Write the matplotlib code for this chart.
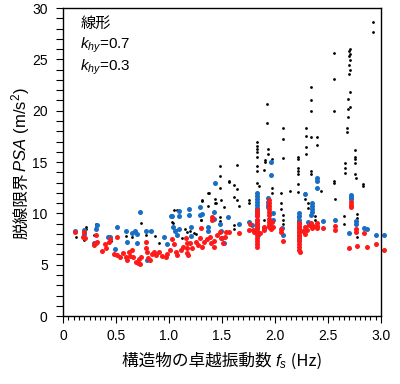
"""Derailment limit PSA vs. dominant structural frequency (scatter)."""
import numpy as np
import matplotlib
matplotlib.use('Agg')
from matplotlib import pyplot as plt
from matplotlib.ticker import MultipleLocator, FuncFormatter

plt.rcParams['font.family'] = ['Liberation Sans', 'Noto Sans CJK JP', 'DejaVu Sans']
plt.rcParams['mathtext.fontset'] = 'custom'
plt.rcParams['mathtext.rm'] = 'Liberation Sans'
plt.rcParams['mathtext.it'] = 'Liberation Sans:italic'

COLOR_LIN = 'black'
COLOR_K07 = '#1a6fc4'
COLOR_K03 = '#ff1a1a'
JP_FONT = ['Noto Sans CJK JP', 'DejaVu Sans']

# (f_s [Hz], PSA [m/s2])
linear_pts = [
    (0.12, 7.7), (0.20, 7.45), (0.22, 8.7), (0.22, 8.45), (0.31, 9.0), (0.31, 8.7), (0.29, 7.9),
    (0.45, 7.3), (0.59, 7.8), (0.65, 7.7), (0.74, 9.1), (0.78, 7.9), (0.82, 8.3), (0.87, 7.8),
    (0.91, 7.1), (1.03, 9.15), (1.04, 9.1), (1.05, 10.3), (1.08, 10.3), (1.07, 8.4), (1.12, 7.6),
    (1.15, 8.45), (1.17, 8.2), (1.20, 8.3), (1.24, 8.05), (1.25, 8.0), (1.30, 9.35), (1.30, 9.4),
    (1.31, 11.3), (1.31, 11.2), (1.37, 11.95), (1.37, 10.7), (1.38, 11.95), (1.43, 11.4),
    (1.43, 11.0), (1.44, 11.0), (1.48, 9.6), (1.48, 9.3), (1.48, 14.6), (1.48, 13.6), (1.48, 12.5),
    (1.49, 11.3), (1.52, 10.65), (1.57, 13.1), (1.57, 13.2), (1.61, 12.8), (1.61, 11.55),
    (1.61, 8.9), (1.61, 8.5), (1.64, 14.7), (1.64, 12.4), (1.64, 11.3), (1.66, 10.7),
    (1.75, 11.3), (1.75, 11.0), (1.83, 16.97), (1.83, 16.6), (1.83, 16.3), (1.83, 16.0),
    (1.83, 15.5), (1.83, 14.6), (1.83, 14.15), (1.83, 13.0), (1.85, 12.7), (1.90, 14.2),
    (1.90, 9.35), (1.92, 20.7), (1.92, 18.8), (1.93, 16.3), (1.93, 15.8), (1.91, 15.2),
    (1.91, 15.0), (1.97, 15.3), (1.97, 12.5), (1.97, 11.95), (2.06, 11.95), (2.06, 11.0),
    (2.06, 10.4), (2.08, 9.86), (2.08, 9.35), (2.08, 9.0), (2.08, 18.3), (2.08, 17.2),
    (2.08, 15.4), (2.14, 12.2), (2.22, 15.45), (2.22, 15.25), (2.22, 14.4), (2.22, 14.15),
    (2.22, 13.8), (2.22, 12.9), (2.22, 12.1), (2.22, 9.6), (2.22, 9.3), (2.28, 12.0),
    (2.28, 11.4), (2.31, 11.0), (2.31, 10.5), (2.38, 9.7), (2.38, 9.4), (2.29, 18.3),
    (2.29, 17.5), (2.29, 16.5), (2.29, 15.8), (2.34, 22.3), (2.34, 21.0), (2.34, 20.0),
    (2.34, 17.4), (2.34, 14.15), (2.34, 13.8), (2.40, 17.4), (2.40, 16.7), (2.43, 12.2),
    (2.56, 25.6), (2.56, 23.1), (2.56, 20.0), (2.56, 13.2), (2.56, 13.0), (2.57, 11.4),
    (2.65, 9.7), (2.65, 9.0), (2.66, 14.9), (2.66, 14.4), (2.66, 13.9), (2.71, 25.97),
    (2.70, 25.77), (2.71, 25.54), (2.70, 25.35), (2.71, 24.93), (2.70, 24.5), (2.71, 24.0),
    (2.70, 23.6), (2.71, 21.8), (2.69, 21.1), (2.71, 20.4), (2.69, 20.2), (2.69, 19.35),
    (2.68, 18.3), (2.68, 17.9), (2.75, 16.2), (2.75, 15.5), (2.75, 15.3), (2.75, 14.9),
    (2.75, 13.8), (2.76, 13.4), (2.77, 9.9), (2.77, 9.55), (2.77, 7.7), (2.83, 12.9),
    (2.83, 12.7), (2.92, 28.6), (2.92, 27.65),
]

k07_pts = [
    (0.11, 8.3), (0.20, 8.37), (0.20, 8.0), (0.29, 7.1), (0.32, 8.86), (0.31, 8.5), (0.42, 7.7),
    (0.44, 7.7), (0.49, 6.5), (0.51, 8.7), (0.59, 8.3), (0.60, 7.2), (0.65, 8.1), (0.68, 8.3),
    (0.70, 8.0), (0.70, 7.1), (0.73, 10.15), (0.78, 8.3), (0.79, 5.45), (0.83, 8.3), (0.95, 7.7),
    (0.98, 7.0), (1.02, 9.7), (1.03, 9.7), (1.04, 8.7), (1.06, 8.3), (1.08, 7.9), (1.09, 10.25),
    (1.09, 9.7), (1.09, 8.5), (1.19, 10.4), (1.19, 9.83), (1.21, 8.7), (1.21, 7.8), (1.29, 10.65),
    (1.29, 9.83), (1.31, 9.9), (1.37, 8.7), (1.37, 8.3), (1.42, 10.1), (1.42, 9.5), (1.43, 13.0),
    (1.48, 9.0), (1.49, 8.3), (1.50, 7.6), (1.52, 7.1), (1.56, 9.6), (1.66, 9.0), (1.75, 9.2),
    (1.78, 8.9), (1.83, 11.95), (1.83, 11.7), (1.83, 11.4), (1.83, 11.1), (1.83, 10.8),
    (1.83, 10.5), (1.83, 10.2), (1.83, 9.8), (1.83, 9.4), (1.83, 9.0), (1.83, 8.6), (1.83, 8.2),
    (1.84, 7.9), (1.90, 8.6), (1.95, 9.0), (1.93, 11.45), (1.93, 11.1), (1.93, 10.8),
    (1.93, 10.65), (1.96, 15.0), (1.96, 13.7), (1.98, 10.0), (1.98, 9.35), (2.07, 8.55),
    (2.08, 7.9), (2.23, 10.0), (2.23, 9.7), (2.23, 9.4), (2.23, 9.1), (2.23, 8.8), (2.23, 8.6),
    (2.23, 8.2), (2.23, 7.8), (2.23, 7.4), (2.28, 11.9), (2.31, 9.15), (2.34, 9.8),
    (2.35, 11.0), (2.35, 10.7), (2.35, 10.4), (2.35, 10.1), (2.40, 13.4), (2.40, 13.2),
    (2.40, 12.5), (2.45, 9.3), (2.57, 9.4), (2.70, 8.1), (2.72, 11.75), (2.72, 11.55),
    (2.72, 11.36), (2.76, 9.3), (2.76, 9.0), (2.84, 8.6), (2.87, 8.5), (2.95, 7.9), (3.03, 7.9),
]

k03_pts = [
    (0.11, 8.15), (0.20, 8.2), (0.19, 7.73), (0.21, 7.57), (0.29, 6.91), (0.30, 7.08), (0.31, 7.89),
    (0.31, 7.08), (0.32, 7.24), (0.37, 6.36), (0.40, 7.01), (0.41, 6.59), (0.43, 7.24), (0.44, 7.47),
    (0.51, 7.73), (0.48, 6.04), (0.51, 5.94), (0.54, 5.78), (0.57, 6.10), (0.59, 5.71), (0.60, 5.45),
    (0.62, 6.26), (0.63, 5.84), (0.65, 6.43), (0.66, 5.71), (0.69, 5.29), (0.71, 5.13), (0.73, 5.06),
    (0.72, 5.52), (0.74, 5.78), (0.78, 7.24), (0.78, 6.59), (0.79, 6.26), (0.80, 5.61), (0.82, 5.45),
    (0.84, 6.04), (0.86, 6.26), (0.88, 5.94), (0.91, 6.26), (0.93, 5.84), (0.97, 5.71), (0.98, 6.04),
    (1.01, 6.43), (1.03, 7.47), (1.05, 7.01), (1.07, 6.26), (1.08, 5.94), (1.11, 6.43), (1.13, 6.75),
    (1.16, 7.57), (1.17, 7.08), (1.17, 6.59), (1.17, 6.10), (1.18, 5.94), (1.20, 7.08), (1.22, 6.59),
    (1.25, 7.24), (1.27, 6.91), (1.29, 7.57), (1.30, 8.54), (1.31, 6.75), (1.33, 7.24), (1.36, 7.47),
    (1.39, 7.73), (1.40, 7.08), (1.42, 6.75), (1.42, 7.30), (1.41, 9.67), (1.41, 9.35), (1.45, 7.89),
    (1.48, 8.21), (1.49, 7.57), (1.51, 7.08), (1.53, 7.73), (1.54, 8.2), (1.57, 8.21), (1.66, 8.12),
    (1.75, 8.38), (1.76, 9.0), (1.79, 8.38), (1.80, 8.21), (1.83, 10.3), (1.83, 10.0), (1.83, 9.7),
    (1.83, 9.4), (1.83, 9.1), (1.83, 8.8), (1.83, 8.5), (1.83, 8.2), (1.83, 7.9), (1.83, 7.6),
    (1.83, 7.3), (1.83, 7.0), (1.83, 6.75), (1.86, 8.05), (1.90, 8.38), (1.90, 8.7), (1.94, 11.3),
    (1.94, 11.0), (1.94, 10.7), (1.94, 10.4), (1.94, 10.1), (1.94, 9.8), (1.94, 9.5), (1.94, 9.2),
    (1.94, 8.9), (1.94, 8.7), (1.97, 9.2), (1.98, 8.7), (1.96, 8.5), (2.06, 8.5), (2.06, 8.2),
    (2.08, 7.33), (2.23, 9.1), (2.23, 8.8), (2.23, 8.5), (2.23, 8.2), (2.23, 7.9), (2.23, 7.6),
    (2.23, 7.3), (2.23, 7.0), (2.23, 6.7), (2.23, 6.4), (2.24, 6.26), (2.26, 8.3), (2.28, 8.7),
    (2.28, 8.0), (2.30, 8.4), (2.32, 8.9), (2.34, 9.1), (2.35, 8.6), (2.36, 8.8), (2.40, 9.1),
    (2.40, 8.8), (2.40, 8.6), (2.45, 8.6), (2.57, 8.8), (2.57, 8.4), (2.70, 6.65), (2.72, 11.1),
    (2.72, 10.8), (2.72, 10.6), (2.76, 8.45), (2.76, 8.2), (2.77, 6.85), (2.84, 8.1), (2.87, 6.75),
    (2.95, 6.98), (3.03, 6.43),
]

legend_labels = ['線形', '$k_{hy}$=0.7', '$k_{hy}$=0.3']
xlabel_parts = ['構造物の卓越振動数 ', '$f_s$', ' (Hz)']
ylabel_parts = ['脱線限界', '$PSA$', ' (m/s$^2$)']


def split(pts):
    arr = np.array(pts)
    return arr[:, 0], arr[:, 1]


def pieced_label(fig, parts, cx, cy, rotation=0, fontsize=12):
    """Draw a label made of several text pieces (CJK + mathtext), centred at (cx, cy) in pixels."""
    renderer = fig.canvas.get_renderer()
    texts = []
    for p in parts:
        fam = JP_FONT if '$' not in p else None
        t = fig.text(0, 0, p, fontsize=fontsize, family=fam, rotation=rotation,
                     rotation_mode='anchor', ha='left', va='baseline', transform=None)
        texts.append(t)
    sizes = []
    for t in texts:
        bb = t.get_window_extent(renderer)
        sizes.append(bb.height if rotation else bb.width)
    pos = -sum(sizes) / 2
    for t, s in zip(texts, sizes):
        if rotation:
            t.set_position((cx, cy + pos))
        else:
            t.set_position((cx + pos, cy))
        pos += s


fig = plt.figure(figsize=(4.0, 3.84), dpi=100)
fig.patch.set_facecolor('white')
ax = fig.add_axes([0.1575, 0.177, 0.795, 0.802])

for pts, color, size in [(linear_pts, COLOR_LIN, 4), (k07_pts, COLOR_K07, 13), (k03_pts, COLOR_K03, 13)]:
    f, psa = split(pts)
    ax.scatter(f, psa, s=size, color=color, linewidths=0, clip_on=False)

ax.set_xlim(0, 3.0)
ax.set_ylim(0, 30)
ax.xaxis.set_major_locator(MultipleLocator(0.5))
ax.xaxis.set_minor_locator(MultipleLocator(0.05))
ax.yaxis.set_major_locator(MultipleLocator(5))
ax.yaxis.set_minor_locator(MultipleLocator(1))
ax.xaxis.set_major_formatter(FuncFormatter(lambda v, _: '0' if abs(v) < 1e-9 else f'{v:.1f}'))
ax.yaxis.set_major_formatter(FuncFormatter(lambda v, _: f'{v:.0f}'))
ax.tick_params(which='major', direction='out', length=5, width=0.8, labelsize=10, pad=4)
ax.tick_params(axis='y', which='minor', direction='out', length=5, width=0.8)
ax.tick_params(axis='x', which='minor', direction='out', length=3, width=0.8)
ax.tick_params(axis='y', pad=6)
for sp in ax.spines.values():
    sp.set_linewidth(1.0)

# labels in pixel coordinates (origin bottom-left)
pieced_label(fig, xlabel_parts, 222, 384 - 366, rotation=0)
pieced_label(fig, ylabel_parts, 26, 384 - 163, rotation=90)

for i, label in enumerate(legend_labels):
    fam = JP_FONT if '$' not in label else None
    ax.text(0.055, 0.95 - i * 0.072, label, transform=ax.transAxes, fontsize=11,
            va='center', ha='left', family=fam)

plt.savefig('out.png', dpi=100)
